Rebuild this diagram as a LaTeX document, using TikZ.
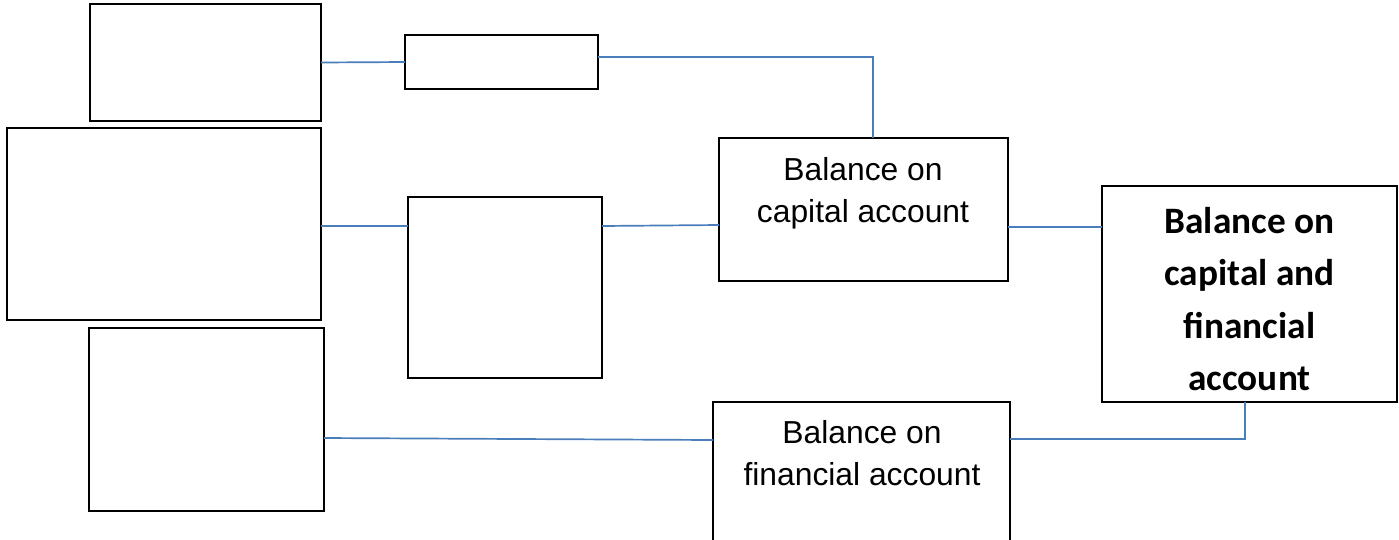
\documentclass[tikz,border=0pt]{standalone}
\usepackage{fontspec}
\setmainfont{Liberation Sans}
\newfontfamily\calibri{Carlito}
\definecolor{linkblue}{HTML}{4A7EBB}
\begin{document}
\begin{tikzpicture}[x=1pt,y=-1pt,
  box/.style={draw=black,line width=2pt,inner sep=0pt,outer sep=0pt,fill=white},
  link/.style={draw=linkblue,line width=1.7pt},
  txt/.style={inner sep=0pt,align=center,font=\fontsize{31.8}{41.5}\selectfont},
  boldtxt/.style={inner sep=0pt,align=center,font=\calibri\bfseries\fontsize{37.3}{52.5}\selectfont}]
\useasboundingbox (0,0) rectangle (1399,539);
\clip (0,0) rectangle (1399,539);
\node[box,minimum width=231pt,minimum height=117pt] (A) at (205.5,62.5) {};
\node[box,minimum width=314pt,minimum height=192pt] (B) at (164,224) {};
\node[box,minimum width=235pt,minimum height=183pt] (C) at (206.5,419.5) {};
\node[box,minimum width=193pt,minimum height=54pt] (D) at (501.5,62) {};
\node[box,minimum width=194pt,minimum height=181pt] (E) at (505,287.5) {};
\node[box,minimum width=289pt,minimum height=143pt] (F) at (863.5,209.5) {};
\node[box,minimum width=295pt,minimum height=216pt] (G) at (1249.5,294) {};
\node[box,minimum width=297pt,minimum height=170pt] (H) at (861.5,487) {};
\node[txt,anchor=base] (Ft) at (863,222) {Balance on\\capital account};
\node[txt,anchor=base] (Ht) at (862,485) {Balance on\\financial account};
\node[boldtxt,anchor=base] (Gt) at (1249.5,390.5) {Balance on\\capital and\\financial\\account};
\coordinate (lvB) at (0,226);
\coordinate (lvF) at (0,225);
\coordinate (lvC) at (0,438);
\coordinate (lvH) at (0,440);
\coordinate (lvD) at (0,57);
\coordinate (colF) at (873,0);
\coordinate (colG) at (1245,0);
\draw[link] (A.east) -- (D.west);
\draw[link] (D.east |- lvD) -| (F.north -| colF);
\draw[link] (B.east |- lvB) -- (E.west |- lvB);
\draw[link] (E.east |- lvB) -- (F.west |- lvF);
\draw[link] (F.east |- 0,227) -- (G.west |- 0,227);
\draw[link] (C.east |- lvC) -- (H.west |- lvH);
\draw[link] (H.east |- 0,439) -| (G.south -| colG);
\end{tikzpicture}
\end{document}
